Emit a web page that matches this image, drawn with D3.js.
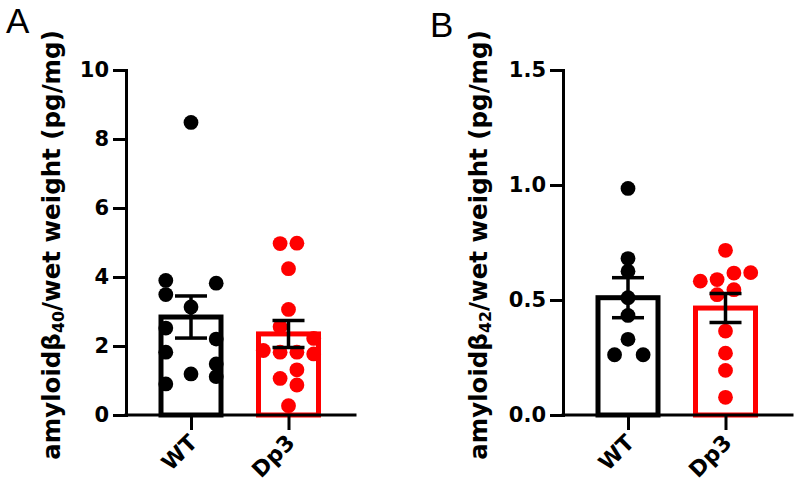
<!DOCTYPE html>
<html>
<head>
<meta charset="utf-8">
<script src="https://cdn.jsdelivr.net/npm/d3@7"></script>
<style>
  body { margin: 0; background: #fff; }
  .tick text { font-family: "DejaVu Sans", sans-serif; font-weight: bold; font-size: 21px; fill: #000; }
  .xlab .tick text { font-size: 22px; }
  .ytitle { font-family: "DejaVu Sans", sans-serif; font-weight: bold; font-size: 24.5px; fill: #000; }
  .panel { font-family: "Liberation Sans", Arial, sans-serif; font-size: 35px; fill: #000; }
</style>
</head>
<body>
<svg id="fig" width="800" height="496"></svg>
<script>
// groups and colours
const groups = ["WT", "Dp3"];
const groupColors = ["#000000", "#ff0000"];

// Panel A: amyloid beta 40 (pg/mg)
const ab40WT = [8.48, 3.90, 3.49, 3.82, 3.13, 2.52, 2.20, 1.82, 1.19, 1.48, 1.11, 0.90];
const ab40WTSlot = [0, -3, -3, 3, 0, -3, 3, -3, 0, 3, 3, -3];
const ab40Dp3 = [4.97, 4.98, 4.24, 3.06, 2.56, 2.22, 1.87, 1.82, 1.82, 1.77, 1.31, 1.06, 0.87, 0.27];
const ab40Dp3Slot = [-1, 1, 0, 0, -1, 3, -3, -1, 1, 3, 1, -1, 1, 0];
const ab40Mean = [2.84, 2.35];
const ab40Sem = [0.61, 0.39];
const ab40Ticks = [0, 2, 4, 6, 8, 10];

// Panel B: amyloid beta 42 (pg/mg)
const ab42WT = [0.985, 0.680, 0.625, 0.510, 0.433, 0.329, 0.262, 0.262];
const ab42WTSlot = [0, 0, 0, 0, 0, 0, -1.6, 1.8];
const ab42Dp3 = [0.716, 0.582, 0.589, 0.617, 0.619, 0.523, 0.545, 0.365, 0.269, 0.194, 0.077];
const ab42Dp3Slot = [0, -3, -1, 1, 3, -1, 1, 0, 0, 0, 0];
const ab42Mean = [0.51, 0.465];
const ab42Sem = [0.087, 0.063];
const ab42Ticks = [0, 0.5, 1.0, 1.5];

function bar_panel(svg, opts) {
    const { left, letter, letterPos, sub, values, slots, means, sems, ticks, fmt, titleX } = opts;
    const top = 70, bottom = 415, axisW = 229;

    const y = d3.scaleLinear().domain([ticks[0], ticks[ticks.length - 1]]).range([bottom, top]);
    const x = d3.scalePoint().domain(groups).range([left + 65, left + 162.5]);
    const slot = d3.scaleLinear().domain([-3, 3]).range([-25.2, 25.2]);

    const g = svg.append("g");

    // bars
    g.selectAll(".bar")
        .data(groups)
        .join("rect")
        .attr("x", d => x(d) - 30)
        .attr("width", 60)
        .attr("y", (d, i) => y(means[i]))
        .attr("height", (d, i) => y(0) - y(means[i]))
        .attr("fill", "none")
        .attr("stroke", (d, i) => groupColors[i])
        .attr("stroke-width", 5);

    // points
    groups.forEach((grp, i) => {
        g.selectAll(`.pt${i}`)
            .data(values[i].map((v, j) => ({ v, s: slots[i][j] })))
            .join("circle")
            .attr("cx", d => x(grp) + slot(d.s))
            .attr("cy", d => y(d.v))
            .attr("r", 7.4)
            .attr("fill", groupColors[i]);
    });

    // error bars (mean ± SEM)
    const eb = g.selectAll(".eb")
        .data(groups)
        .join("g")
        .attr("stroke", "#000")
        .attr("stroke-width", 3.5);
    eb.append("line")
        .attr("x1", d => x(d)).attr("x2", d => x(d))
        .attr("y1", (d, i) => y(means[i] - sems[i]))
        .attr("y2", (d, i) => y(means[i] + sems[i]));
    [-1, 1].forEach(sign => {
        eb.append("line")
            .attr("x1", d => x(d) - 16).attr("x2", d => x(d) + 16)
            .attr("y1", (d, i) => y(means[i] + sign * sems[i]))
            .attr("y2", (d, i) => y(means[i] + sign * sems[i]));
    });

    // y axis
    const yAxis = g.append("g")
        .attr("transform", `translate(${left},0)`)
        .call(d3.axisLeft(y).tickValues(ticks).tickFormat(d3.format(fmt)).tickSize(13).tickPadding(4).tickSizeOuter(0));
    yAxis.select(".domain").attr("stroke-width", 3).attr("stroke-linecap", "square");
    yAxis.selectAll(".tick line").attr("stroke-width", 3);

    // x axis
    const xAxis = g.append("g")
        .attr("class", "xlab")
        .attr("transform", `translate(0,${bottom})`)
        .call(d3.axisBottom(x).tickSize(15).tickSizeOuter(0));
    xAxis.select(".domain").remove();
    xAxis.selectAll(".tick line").attr("stroke-width", 3);
    xAxis.selectAll(".tick text")
        .attr("text-anchor", "end")
        .attr("x", 0).attr("y", 0).attr("dy", 0)
        .attr("transform", "translate(7,29) rotate(-45)");
    xAxis.append("line")
        .attr("x1", left).attr("x2", left + axisW)
        .attr("y1", 0).attr("y2", 0)
        .attr("stroke", "#000").attr("stroke-width", 3).attr("stroke-linecap", "square");

    // y title
    const t = g.append("text")
        .attr("class", "ytitle")
        .attr("text-anchor", "middle")
        .attr("transform", `translate(${titleX},245) rotate(-90)`);
    t.append("tspan").text("amyloidβ");
    t.append("tspan").text(sub).style("font-size", "0.65em").attr("dy", "0.25em");
    t.append("tspan").text("/wet weight (pg/mg)").attr("dy", "-0.16em");

    // panel letter
    svg.append("text")
        .attr("class", "panel")
        .attr("x", letterPos[0]).attr("y", letterPos[1])
        .text(letter);
}

const svg = d3.select("#fig");

bar_panel(svg, {
    left: 126, letter: "A", letterPos: [6, 33], sub: "40",
    values: [ab40WT, ab40Dp3], slots: [ab40WTSlot, ab40Dp3Slot],
    means: ab40Mean, sems: ab40Sem, ticks: ab40Ticks, fmt: "d", titleX: 60
});

bar_panel(svg, {
    left: 563, letter: "B", letterPos: [430, 37], sub: "42",
    values: [ab42WT, ab42Dp3], slots: [ab42WTSlot, ab42Dp3Slot],
    means: ab42Mean, sems: ab42Sem, ticks: ab42Ticks, fmt: ".1f", titleX: 487
});
</script>
</body>
</html>
